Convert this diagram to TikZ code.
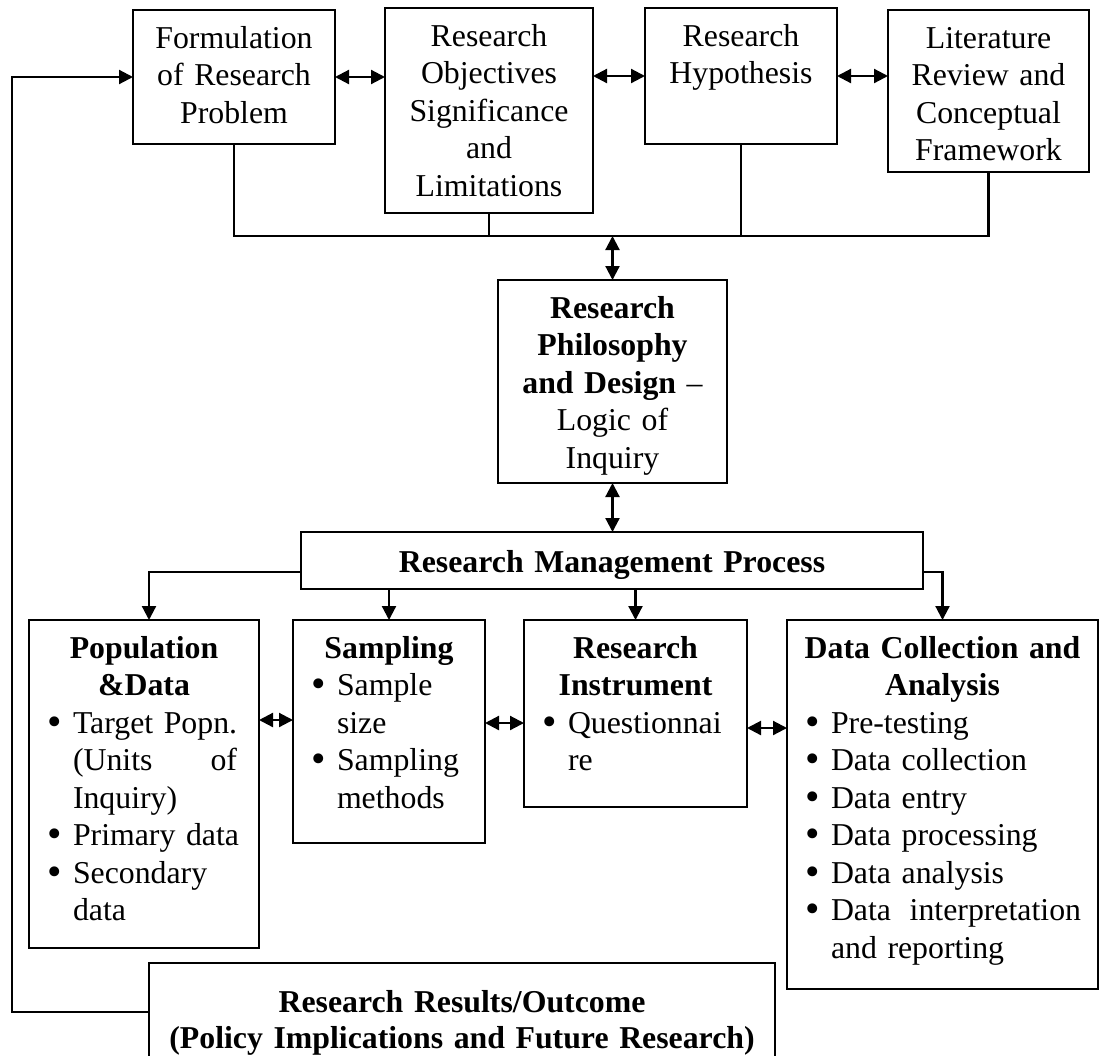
\documentclass[tikz,border=0pt]{standalone}
\usepackage{fontspec}
\setmainfont{Liberation Serif}
\usetikzlibrary{arrows.meta}
\newcommand{\itembul}{\leavevmode\llap{\raisebox{-1.1pt}{\scalebox{1.3}{\textbullet}}\hspace{5.5pt}}}

\begin{document}
\begin{tikzpicture}[x=0.5pt,y=-0.5pt,
  frame/.style={draw, line width=1.1pt, inner sep=0pt, outer sep=0pt},
  txt/.style={inner sep=0pt, outer sep=0pt, anchor=base, align=center,
              font=\fontsize{15.9}{18.75}\selectfont},
  lst/.style={inner sep=0pt, outer sep=0pt, anchor=base west, align=left,
              text width=135pt, font=\fontsize{15.9}{18.75}\selectfont},
  ln/.style={line width=1.1pt},
  arr/.style={ln, -{Triangle[length=7pt,width=7pt]}},
  dbl/.style={ln, {Triangle[length=7pt,width=7pt]}-{Triangle[length=7pt,width=7pt]}},
]
\useasboundingbox (0,0) rectangle (1102,1055);
\fill[white] (0,0) rectangle (1102,1055);

% top row of boxes
\node[frame, minimum width=101pt, minimum height=67pt]    (B1) at (234,77) {};
\node[frame, minimum width=104pt, minimum height=102.5pt] (B2) at (489,110.5) {};
\node[frame, minimum width=96pt,  minimum height=68pt]    (B3) at (741,76) {};
\node[frame, minimum width=100.5pt, minimum height=81pt]  (B4) at (988.5,91) {};

\node[txt, text width=101pt] (t1) at ([yshift=-19pt]B1.north) {Formulation\\of Research\\Problem};
\node[txt, text width=104pt] (t2) at ([yshift=-19pt]B2.north) {Research\\Objectives\\Significance\\and\\Limitations};
\node[txt, text width=96pt]  (t3) at ([yshift=-19pt]B3.north) {Research\\Hypothesis};
\node[txt, text width=100.5pt] (t4) at ([yshift=-19pt]B4.north) {Literature\\Review and\\Conceptual\\Framework};

% philosophy and management boxes
\node[frame, minimum width=114.5pt, minimum height=101.5pt] (Phil) at (612.5,381.5) {};
\node[txt, text width=114.5pt] (tp) at ([yshift=-19pt]Phil.north)
  {\textbf{Research}\\\textbf{Philosophy}\\\textbf{and Design} --\\Logic of\\Inquiry};

\node[frame, minimum width=311pt, minimum height=28.5pt] (RMP) at (612,560.5) {};
\node[txt, text width=311pt] (tm) at ([yshift=-20pt]RMP.north) {\textbf{Research Management Process}};

% lower row of boxes
\node[frame, minimum width=115pt,   minimum height=164pt]   (Pop)  at (144,784) {};
\node[frame, minimum width=96pt,    minimum height=111.5pt] (Samp) at (389,731.5) {};
\node[frame, minimum width=111.5pt, minimum height=93.5pt]  (RI)   at (635.5,713.5) {};
\node[frame, minimum width=155.5pt, minimum height=184.5pt] (DCA)  at (942.5,804.5) {};

\node[txt, text width=115pt] (hp) at ([yshift=-19pt]Pop.north) {\textbf{Population}\\\textbf{\&Data}};
\node[lst] (lp) at ([xshift=22pt,yshift=-56.5pt]Pop.north west)
  {\itembul Target Popn.\\\makebox[82pt][l]{(Units\hfill of}\\Inquiry)\\\itembul Primary data\\\itembul Secondary\\data};

\node[txt, text width=96pt] (hs) at ([yshift=-19pt]Samp.north) {\textbf{Sampling}};
\node[lst] (ls) at ([xshift=22pt,yshift=-37.75pt]Samp.north west)
  {\itembul Sample\\size\\\itembul Sampling\\methods};

\node[txt, text width=111.5pt] (hr) at ([yshift=-19pt]RI.north) {\textbf{Research}\\\textbf{Instrument}};
\node[lst] (lr) at ([xshift=22pt,yshift=-56.5pt]RI.north west)
  {\itembul Questionnai\\re};

\node[txt, text width=155.5pt] (hd) at ([yshift=-19pt]DCA.north) {\textbf{Data Collection and}\\\textbf{Analysis}};
\node[lst] (ld) at ([xshift=22pt,yshift=-56.5pt]DCA.north west)
  {\itembul Pre-testing\\\itembul Data collection\\\itembul Data entry\\\itembul Data processing\\\itembul Data analysis\\\itembul \makebox[125pt][l]{Data\hfill interpretation}\\and reporting};

% results box
\node[frame, minimum width=313pt, minimum height=49pt] (RR) at (462,1012) {};
\node[txt, text width=313pt] (tr) at ([yshift=-24.5pt]RR.north)
  {\textbf{Research Results/Outcome}\\[-0.75pt]\textbf{(Policy Implications and Future Research)}};

% links along the top row
\draw[dbl] (B1.east) -- (B2.west |- B1.east);
\draw[dbl] (B2.east |- B3.west) -- (B3.west);
\draw[dbl] (B3.east) -- (B4.west |- B3.east);

% collecting bus under the top row
\coordinate (bus) at ([yshift=-11.5pt]B2.south);
\draw[ln] (B1.south) |- (B4.south |- bus) -- (B4.south);
\draw[ln] (B2.south) -- (B2.south |- bus);
\draw[ln] (B3.south) -- (B3.south |- bus);
\draw[dbl] (Phil.north |- bus) -- (Phil.north);
\draw[dbl] (Phil.south) -- (Phil.south |- RMP.north);

% branches out of the management process
\coordinate (brL) at ([yshift=-5.75pt]RMP.west);
\coordinate (brR) at ([yshift=-5.75pt]RMP.east);
\draw[arr] (brL) -| ([xshift=2.5pt]Pop.north);
\draw[arr] (Samp.north |- RMP.south) -- (Samp.north);
\draw[arr] (RI.north |- RMP.south) -- (RI.north);
\draw[arr] (brR) -| (DCA.north);

% links along the lower row
\coordinate (ya) at ([yshift=5.75pt]Samp.west);
\draw[dbl] (Pop.east |- ya) -- (ya);
\coordinate (yb) at ([yshift=4.25pt]Samp.east);
\draw[dbl] (yb) -- (RI.west |- yb);
\coordinate (yc) at ([yshift=-7.25pt]RI.east);
\draw[dbl] (yc) -- (DCA.west |- yc);

% feedback loop from the results back to the problem
\coordinate (loop) at (12,0);
\draw[arr] (RR.west) -- (RR.west -| loop) -- (loop |- B1.west) -- (B1.west);
\end{tikzpicture}
\end{document}
